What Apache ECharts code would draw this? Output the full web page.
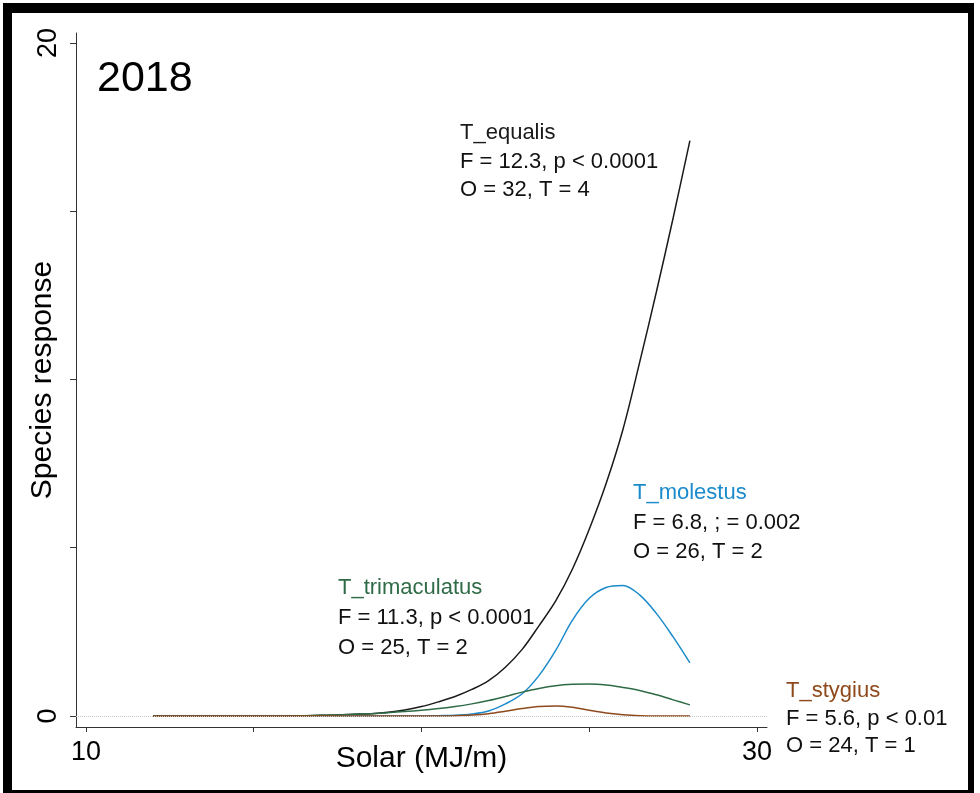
<!DOCTYPE html>
<html><head><meta charset="utf-8">
<script src="https://cdn.jsdelivr.net/npm/echarts@6/dist/echarts.min.js"></script>
<style>html,body{margin:0;padding:0;background:#fff;}#c{width:980px;height:793px;}</style>
</head><body><div id="c"></div>
<script>
// ---- data ----
const solar = [12,12.5,13,13.5,14,14.5,15,15.5,16,16.5,17,17.5,18,18.5,19,19.5,20,20.5,21,21.5,22,22.5,23,23.5,24,24.5,25,25.5,26,26.5,27,27.5,28];
const equalis = [0,0,0,0,0,0,0,0.01,0.01,0.01,0.02,0.03,0.05,0.07,0.11,0.18,0.28,0.42,0.58,0.79,1.05,1.45,1.98,2.68,3.42,4.37,5.55,6.9,8.5,10.5,12.6,14.8,17.1];
const molestus = [0,0,0,0,0,0,0,0,0,0,0,0,0,0,0,0,0,0.01,0.02,0.06,0.15,0.36,0.66,1.2,1.95,2.85,3.5,3.82,3.88,3.6,3.05,2.35,1.58];
const trimaculatus = [0,0,0,0,0,0,0,0,0,0.01,0.02,0.03,0.05,0.07,0.1,0.13,0.17,0.22,0.28,0.36,0.46,0.58,0.71,0.82,0.9,0.94,0.95,0.92,0.85,0.76,0.63,0.48,0.33];
const stygius = [0,0,0,0,0,0,0,0,0,0,0,0,0,0,0,0,0,0,0.01,0.03,0.07,0.14,0.22,0.28,0.3,0.26,0.17,0.09,0.04,0.01,0,0,0];
const xTicks = [10,15,20,25,30];
const xTickLabels = [10,30];
const yTicks = [0,5,10,15,20];
const yTickLabels = [0,20];
const yearLabel = '2018';
const equalisText = ['T_equalis','F = 12.3, p < 0.0001','O = 32, T = 4'];
const molestusText = ['T_molestus','F = 6.8, ; = 0.002','O = 26, T = 2'];
const trimaculatusText = ['T_trimaculatus','F = 11.3, p < 0.0001','O = 25, T = 2'];
const stygiusText = ['T_stygius','F = 5.6, p < 0.01','O = 24, T = 1'];

// ---- style ----
const FONT = '"Liberation Sans", Arial, sans-serif';
const C_BLACK = '#1a1a1a', C_BLUE = '#1b8bcb', C_GREEN = '#2f6b46', C_BROWN = '#8e4a1c';

const pairs = ys => solar.map((x, i) => [x, ys[i]]);
const mk = (name, ys, color) => ({
  name, type: 'line', data: pairs(ys), showSymbol: false, symbol: 'none',
  smooth: 0.35, lineStyle: { color, width: 1.5 }, z: 3
});

function block(lines, x, y0, step, color) {
  return lines.map((t, i) => ({
    type: 'text', x: x, y: y0 + i * step, z: 50,
    style: { text: t, fill: i === 0 ? color : '#111', fontSize: 22, fontFamily: FONT, verticalAlign: 'middle', align: 'left' }
  }));
}

const graphics = [
  { type: 'rect', shape: { x: 3, y: 3, width: 971, height: 790 }, style: { fill: '#000' }, z: -100, silent: true },
  { type: 'rect', shape: { x: 12, y: 13, width: 956, height: 777 }, style: { fill: '#fff' }, z: -99, silent: true },
  { type: 'text', x: 97, y: 79, z: 50, style: { text: yearLabel, fill: '#000', fontSize: 43, fontFamily: FONT, verticalAlign: 'middle' } },
  ...block(equalisText, 460, 133, 28.5, C_BLACK),
  ...block(molestusText, 633, 493, 29.5, C_BLUE),
  ...block(trimaculatusText, 338, 588, 30, C_GREEN),
  ...block(stygiusText, 786, 691, 27.5, C_BROWN)
];

const chart = echarts.init(document.getElementById('c'), null, { renderer: 'canvas' });
chart.setOption({
  animation: false,
  backgroundColor: 'transparent',
  graphic: graphics,
  grid: { left: 76, right: 213, top: 33, bottom: 66, containLabel: false, outerBoundsMode: 'none' },
  xAxis: {
    type: 'value', min: 9.702, max: 30.298,
    name: 'Solar (MJ/m)', nameLocation: 'middle', nameGap: 17, nameMoveOverlap: false,
    nameTextStyle: { fontSize: 30, color: '#000', fontFamily: FONT },
    axisLine: { show: true, onZero: false, lineStyle: { color: '#333', width: 1 } },
    axisTick: { show: true, customValues: xTicks, length: 5, lineStyle: { color: '#333', width: 1 } },
    axisLabel: { customValues: xTickLabels, fontSize: 27, color: '#000', fontFamily: FONT, margin: 12 },
    splitLine: { show: false }
  },
  yAxis: {
    type: 'value', min: -0.327, max: 20.297,
    name: 'Species response', nameLocation: 'middle', nameGap: 18, nameMoveOverlap: false,
    nameTextStyle: { fontSize: 30, color: '#000', fontFamily: FONT },
    axisLine: { show: true, onZero: false, lineStyle: { color: '#333', width: 1 } },
    axisTick: { show: true, customValues: yTicks, length: 6, lineStyle: { color: '#333', width: 1 } },
    axisLabel: { customValues: yTickLabels, rotate: 90, fontSize: 27, color: '#000', fontFamily: FONT, margin: 14 },
    splitLine: { show: false }
  },
  series: [
    mk('T_equalis', equalis, C_BLACK),
    mk('T_molestus', molestus, C_BLUE),
    mk('T_trimaculatus', trimaculatus, C_GREEN),
    Object.assign(mk('T_stygius', stygius, C_BROWN), {
      markLine: { silent: true, symbol: 'none', label: { show: false },
        lineStyle: { color: '#c8c8c8', type: 'dotted', width: 1 }, data: [{ yAxis: 0 }] }
    })
  ]
});
</script></body></html>
